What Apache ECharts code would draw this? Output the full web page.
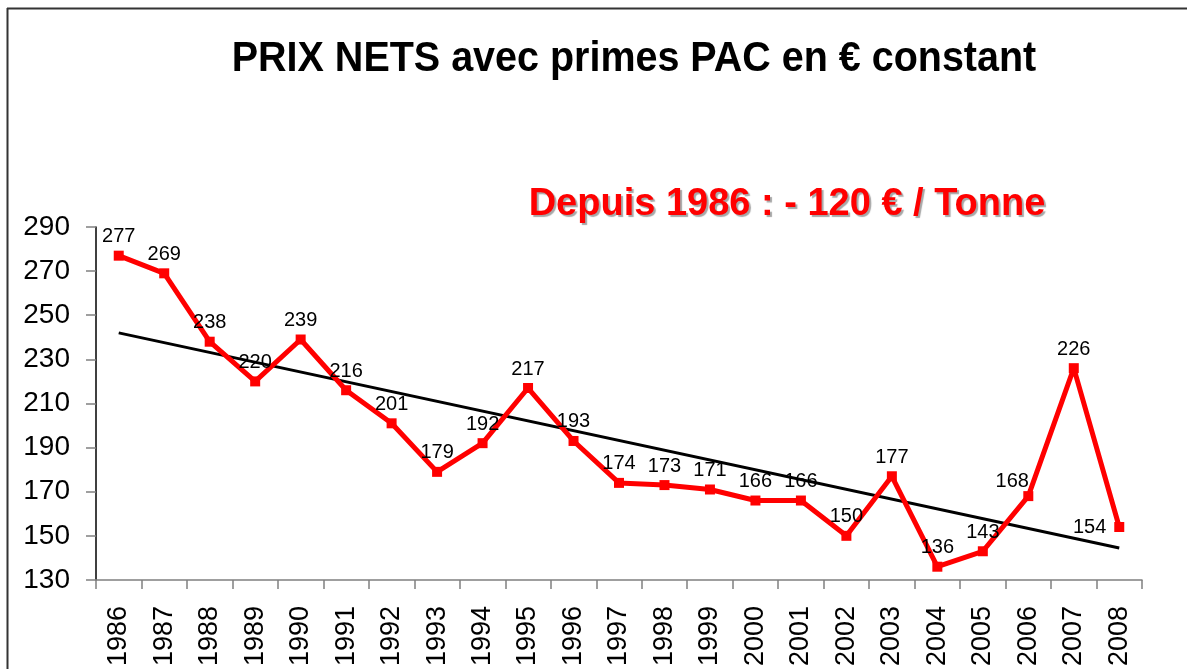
<!DOCTYPE html>
<html>
<head>
<meta charset="utf-8">
<script src="https://cdn.jsdelivr.net/npm/echarts@6/dist/echarts.min.js"></script>
<style>
html,body{margin:0;padding:0;background:#fff;}
#chart{width:1187px;height:669px;}
</style>
</head>
<body>
<div id="chart"></div>
<script>
var years = ['1986','1987','1988','1989','1990','1991','1992','1993','1994','1995','1996','1997','1998','1999','2000','2001','2002','2003','2004','2005','2006','2007','2008'];
var prices = [277,269,238,220,239,216,201,179,192,217,193,174,173,171,166,166,150,177,136,143,168,226,154];
var trendYears = ['1986','2008'];
var trendValues = [242,144.5];
var yTicks = [130,150,170,190,210,230,250,270,290];
var titleText = 'PRIX NETS avec primes PAC en € constant';
var noteText = 'Depuis 1986 : - 120 € / Tonne';

var FONT = '"Liberation Sans", Arial, sans-serif';

var priceData = prices.map(function(v, i){
  var item = {value: v};
  if (years[i] === '2008') item.label = {position: 'left', distance: 8};
  if (years[i] === '2006') item.label = {offset: [-16, 4]};
  return item;
});

var chart = echarts.init(document.getElementById('chart'), null, {renderer: 'canvas'});
chart.setOption({
  animation: false,
  backgroundColor: '#ffffff',
  grid: {left: 96, top: 227, right: 45, bottom: 88, containLabel: false},
  xAxis: {
    type: 'category',
    data: years,
    boundaryGap: true,
    axisLine: {lineStyle: {color: '#808080', width: 1.5}},
    axisTick: {show: true, length: 9, alignWithLabel: false, lineStyle: {color: '#808080', width: 1.5}},
    axisLabel: {rotate: 90, margin: 26, fontSize: 27, color: '#000', fontFamily: FONT, interval: 0},
    splitLine: {show: false}
  },
  yAxis: {
    type: 'value',
    min: yTicks[0],
    max: yTicks[yTicks.length - 1],
    interval: 20,
    axisLine: {show: true, lineStyle: {color: '#000', width: 1.5}},
    axisTick: {show: true, length: 10, lineStyle: {color: '#808080', width: 1.5}},
    axisLabel: {margin: 26, fontSize: 28, color: '#000', fontFamily: FONT},
    splitLine: {show: false}
  },
  graphic: [
    {type: 'line', shape: {x1: 7, y1: 8.5, x2: 1187, y2: 8.5}, style: {stroke: '#333', lineWidth: 2}, silent: true},
    {type: 'line', shape: {x1: 7.5, y1: 8, x2: 7.5, y2: 669}, style: {stroke: '#333', lineWidth: 2}, silent: true},
    {type: 'text', x: 634, y: 59, scaleX: 0.94, style: {text: titleText, font: 'bold 42px ' + FONT, fill: '#000', textAlign: 'center', textVerticalAlign: 'middle'}, silent: true},
    {type: 'text', x: 787, y: 205, style: {text: noteText, font: 'bold 38px ' + FONT, fill: '#ff0000', textAlign: 'center', textVerticalAlign: 'middle', textShadowColor: 'rgba(0,0,0,0.35)', textShadowOffsetX: 2, textShadowOffsetY: 2, textShadowBlur: 1}, silent: true}
  ],
  series: [
    {
      type: 'line',
      data: trendYears.map(function(y, i){ return [y, trendValues[i]]; }),
      symbol: 'none',
      lineStyle: {color: '#000', width: 3},
      z: 2
    },
    {
      type: 'line',
      data: priceData,
      symbol: 'rect',
      symbolSize: 10,
      itemStyle: {color: '#ff0000'},
      lineStyle: {color: '#ff0000', width: 5},
      label: {show: true, position: 'top', distance: 4, fontSize: 20, color: '#000', fontFamily: FONT},
      z: 3
    }
  ]
});
</script>
</body>
</html>
